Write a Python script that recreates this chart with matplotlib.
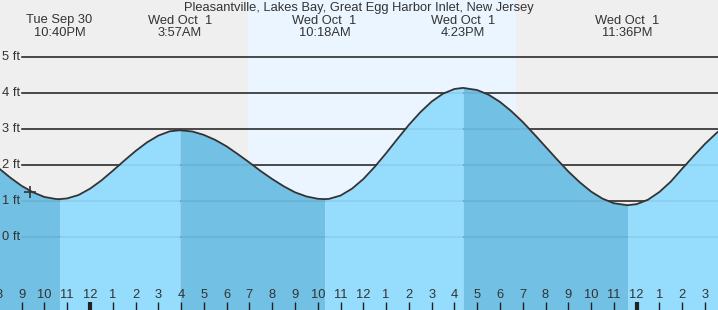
import matplotlib.pyplot as plt
import matplotlib.transforms as mtransforms
import numpy as np

# hours relative to midnight Oct 1, heights in ft
hours = [-4.0, -3.5, -3.0, -2.5, -2.0, -1.5, -1.333, -1.0, -0.5, 0.0, 0.5, 1.0, 1.5,
         2.0, 2.5, 3.0, 3.5, 3.95, 4.5, 5.0, 5.5, 6.0, 6.5, 7.0, 7.5, 8.0, 8.5, 9.0,
         9.5, 10.0, 10.3, 10.5, 11.0, 11.5, 12.0, 12.5, 13.0, 13.5, 14.0, 14.5, 15.0,
         15.5, 16.0, 16.383, 17.0, 17.5, 18.0, 18.5, 19.0, 19.5, 20.0, 20.5, 21.0,
         21.5, 22.0, 22.5, 23.0, 23.6, 24.0, 24.5, 25.0, 25.5, 26.0, 26.5, 27.0,
         27.5, 28.0]
feet = [1.91, 1.65, 1.42, 1.24, 1.11, 1.054, 1.05, 1.07, 1.165, 1.34, 1.57, 1.84,
        2.12, 2.39, 2.63, 2.82, 2.94, 2.97, 2.935, 2.84, 2.70, 2.52, 2.30, 2.07,
        1.83, 1.61, 1.41, 1.24, 1.125, 1.06, 1.05, 1.058, 1.15, 1.34, 1.61, 1.95,
        2.33, 2.73, 3.12, 3.47, 3.77, 3.99, 4.12, 4.15, 4.09, 3.96, 3.76, 3.50, 3.20,
        2.86, 2.51, 2.16, 1.82, 1.52, 1.26, 1.064, 0.935, 0.88, 0.91, 1.035, 1.25,
        1.54, 1.90, 2.25, 2.59, 2.89, 3.15]

# high / low tides
tide_times = [-1.333, 3.95, 10.3, 16.383, 23.6]
tide_top = ['Tue Sep 30', 'Wed Oct  1', 'Wed Oct  1', 'Wed Oct  1', 'Wed Oct  1']
tide_bottom = ['10:40PM', '3:57AM', '10:18AM', '4:23PM', '11:36PM']

sunrise = 6.94
sunset = 18.70
now_time, now_feet = -2.63, 1.25

title = 'Pleasantville, Lakes Bay, Great Egg Harbor Inlet, New Jersey'
ft_levels = [0, 1, 2, 3, 4, 5]

x_left, x_right = -3.95, 27.57
y_bottom, y_top = -2.04, 6.6

night_col = '#efefef'
day_col = '#eaf5ff'
dark_water = '#72c0e4'
light_water = '#96dcfc'
txt_col = '#333333'
fs = 9.3

plt.rcParams['font.family'] = ['Liberation Sans', 'DejaVu Sans']

fig = plt.figure(figsize=(7.18, 3.10), dpi=100)
ax = fig.add_axes([0, 0, 1, 1])
ax.set_xlim(x_left, x_right)
ax.set_ylim(y_bottom, y_top)
ax.axis('off')

ax.axvspan(x_left, sunrise, color=night_col, zorder=0, lw=0)
ax.axvspan(sunrise, sunset, color=day_col, zorder=0, lw=0)
ax.axvspan(sunset, x_right, color=night_col, zorder=0, lw=0)

grid_start = -2.985
for lv in ft_levels:
    ax.plot([grid_start, x_right], [lv, lv], color='#222222', lw=1.1, zorder=1)
    ax.plot([grid_start, x_right], [lv, lv], color='#000000', lw=1.1, alpha=0.08, zorder=3)
    ax.text(0.003, lv, f'{lv} ft', transform=mtransforms.blended_transform_factory(ax.transAxes, ax.transData),
            ha='left', va='center', fontsize=fs, color=txt_col, zorder=4)

h = np.array(hours)
f = np.array(feet)
bounds = [h[0]] + tide_times + [h[-1]]
for i in range(len(bounds) - 1):
    m = (h >= bounds[i]) & (h <= bounds[i + 1])
    # falling water darker, rising lighter
    col = dark_water if i % 2 == 0 else light_water
    ax.fill_between(h[m], f[m], y_bottom, color=col, lw=0, zorder=2)

ax.plot(h, f, color='#333333', lw=1.3, zorder=4)
ax.plot(now_time, now_feet, marker='+', ms=9, mew=1.2, color='#333333', zorder=5)

top = mtransforms.blended_transform_factory(ax.transData, ax.transAxes)
ax.text((x_left + x_right) / 2, 1 - 8 / 310, title, transform=top, ha='center',
        va='center', fontsize=fs, color=txt_col)
for t, a, b in zip(tide_times, tide_top, tide_bottom):
    ax.text(t, 1 - 20.5 / 310, a, transform=top, ha='center', va='center', fontsize=fs, color=txt_col)
    ax.text(t, 1 - 32.5 / 310, b, transform=top, ha='center', va='center', fontsize=fs, color=txt_col)

for hr in range(-4, 28):
    lab = (hr + 24) % 12
    lab = 12 if lab == 0 else lab
    ax.text(hr, 15 / 310, str(lab), transform=top, ha='center', va='center', fontsize=fs, color=txt_col, zorder=5)
    midnight = (hr % 24 == 0)
    ax.plot([hr, hr], [0, 8 / 310], transform=top, color='#222222',
            lw=3 if midnight else 1, solid_capstyle='butt', zorder=5)

fig.savefig('out.png', dpi=100)
